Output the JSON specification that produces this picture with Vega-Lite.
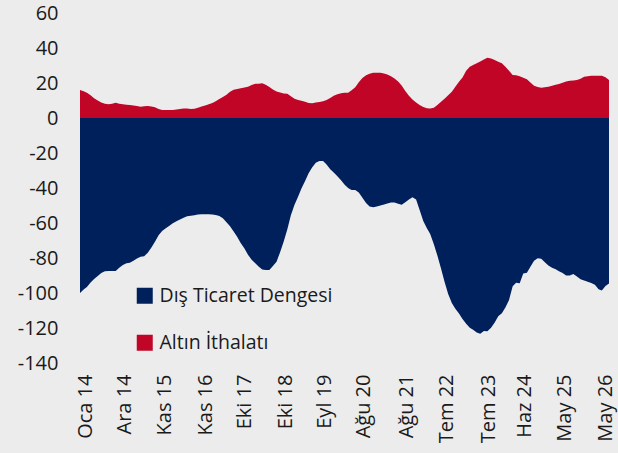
{
  "$schema": "https://vega.github.io/schema/vega-lite/v6.json",
  "width": 529,
  "height": 350,
  "autosize": {"type": "none"},
  "padding": {"left": 80, "top": 13, "right": 9, "bottom": 90},
  "background": "#ECECEC",
  "config": {
    "view": {"stroke": null},
    "font": "Open Sans",
    "axis": {"labelFont": "Open Sans", "labelColor": "#1A1A1A", "labelFontSize": 20, "grid": false, "domain": false, "ticks": false, "tickSize": 0, "title": null, "labelOverlap": false},
    "axisY": {"labelOverlap": false}
  },
  "data": {"values": [
    {"d":"2014/01/01","n":-100,"r":16},{"d":"2014/02/01","n":-98,"r":15.3},{"d":"2014/03/01","n":-96.5,"r":14.4},{"d":"2014/04/01","n":-94,"r":13},{"d":"2014/05/01","n":-92,"r":11.3},{"d":"2014/06/01","n":-90.3,"r":10},{"d":"2014/07/01","n":-88.5,"r":8.8},{"d":"2014/08/01","n":-87.6,"r":8.2},{"d":"2014/09/01","n":-87.4,"r":7.9},{"d":"2014/10/01","n":-87.4,"r":8.1},{"d":"2014/11/01","n":-87.4,"r":8.7},{"d":"2014/12/01","n":-85.5,"r":8.2},
    {"d":"2015/01/01","n":-84,"r":7.8},{"d":"2015/02/01","n":-83,"r":7.6},{"d":"2015/03/01","n":-82.7,"r":7.4},{"d":"2015/04/01","n":-81.5,"r":7.1},{"d":"2015/05/01","n":-80.3,"r":6.8},{"d":"2015/06/01","n":-79.3,"r":6.5},{"d":"2015/07/01","n":-79,"r":6.7},{"d":"2015/08/01","n":-77,"r":6.9},{"d":"2015/09/01","n":-74,"r":6.6},{"d":"2015/10/01","n":-70.7,"r":6.1},{"d":"2015/11/01","n":-67,"r":5.2},{"d":"2015/12/01","n":-64.6,"r":4.6},
    {"d":"2016/01/01","n":-63,"r":4.6},{"d":"2016/02/01","n":-61.5,"r":4.6},{"d":"2016/03/01","n":-60.2,"r":4.6},{"d":"2016/04/01","n":-59,"r":4.8},{"d":"2016/05/01","n":-58,"r":5.1},{"d":"2016/06/01","n":-57,"r":5.4},{"d":"2016/07/01","n":-56.2,"r":5.4},{"d":"2016/08/01","n":-55.8,"r":5.2},{"d":"2016/09/01","n":-55.5,"r":5.3},{"d":"2016/10/01","n":-55.2,"r":5.9},{"d":"2016/11/01","n":-55,"r":6.6},{"d":"2016/12/01","n":-55,"r":7.2},
    {"d":"2017/01/01","n":-55,"r":7.8},{"d":"2017/02/01","n":-55.2,"r":8.6},{"d":"2017/03/01","n":-55.4,"r":9.6},{"d":"2017/04/01","n":-56,"r":10.8},{"d":"2017/05/01","n":-57.3,"r":12},{"d":"2017/06/01","n":-59.5,"r":13.3},{"d":"2017/07/01","n":-61.8,"r":15},{"d":"2017/08/01","n":-64.8,"r":16.1},{"d":"2017/09/01","n":-68,"r":16.6},{"d":"2017/10/01","n":-71.5,"r":17},{"d":"2017/11/01","n":-74.5,"r":17.4},{"d":"2017/12/01","n":-78.2,"r":17.9},
    {"d":"2018/01/01","n":-81,"r":18.9},{"d":"2018/02/01","n":-83,"r":19.6},{"d":"2018/03/01","n":-84.8,"r":19.6},{"d":"2018/04/01","n":-86.5,"r":19.8},{"d":"2018/05/01","n":-86.9,"r":19},{"d":"2018/06/01","n":-86.9,"r":17.7},{"d":"2018/07/01","n":-84.5,"r":16.3},{"d":"2018/08/01","n":-82.2,"r":15.2},{"d":"2018/09/01","n":-76.5,"r":14.6},{"d":"2018/10/01","n":-70.5,"r":14},{"d":"2018/11/01","n":-63.5,"r":13.8},{"d":"2018/12/01","n":-55.5,"r":12.5},
    {"d":"2019/01/01","n":-49.5,"r":11},{"d":"2019/02/01","n":-44.8,"r":10.3},{"d":"2019/03/01","n":-40.3,"r":9.8},{"d":"2019/04/01","n":-36,"r":9.3},{"d":"2019/05/01","n":-31.5,"r":8.6},{"d":"2019/06/01","n":-28.2,"r":8.5},{"d":"2019/07/01","n":-25.5,"r":8.8},{"d":"2019/08/01","n":-24.6,"r":9.2},{"d":"2019/09/01","n":-24.6,"r":9.6},{"d":"2019/10/01","n":-26.6,"r":10.3},{"d":"2019/11/01","n":-29.3,"r":11.5},{"d":"2019/12/01","n":-31.2,"r":12.7},
    {"d":"2020/01/01","n":-33.3,"r":13.6},{"d":"2020/02/01","n":-35.6,"r":14.1},{"d":"2020/03/01","n":-38,"r":14.5},{"d":"2020/04/01","n":-40,"r":14.5},{"d":"2020/05/01","n":-41.1,"r":15.8},{"d":"2020/06/01","n":-41.1,"r":17.6},{"d":"2020/07/01","n":-42.5,"r":20.5},{"d":"2020/08/01","n":-45.5,"r":22.8},{"d":"2020/09/01","n":-48.5,"r":24.4},{"d":"2020/10/01","n":-50.5,"r":25.3},{"d":"2020/11/01","n":-51,"r":25.8},{"d":"2020/12/01","n":-50.5,"r":25.9},
    {"d":"2021/01/01","n":-50,"r":25.8},{"d":"2021/02/01","n":-49.4,"r":25.4},{"d":"2021/03/01","n":-48.8,"r":24.8},{"d":"2021/04/01","n":-48.3,"r":23.8},{"d":"2021/05/01","n":-48.3,"r":22.6},{"d":"2021/06/01","n":-49,"r":20.8},{"d":"2021/07/01","n":-49.6,"r":18.6},{"d":"2021/08/01","n":-48.2,"r":15.5},{"d":"2021/09/01","n":-46.5,"r":12.7},{"d":"2021/10/01","n":-45.3,"r":10.6},{"d":"2021/11/01","n":-46.5,"r":8.9},{"d":"2021/12/01","n":-52.5,"r":7.4},
    {"d":"2022/01/01","n":-58.8,"r":6.3},{"d":"2022/02/01","n":-63,"r":5.6},{"d":"2022/03/01","n":-66.3,"r":5.5},{"d":"2022/04/01","n":-72.2,"r":5.9},{"d":"2022/05/01","n":-78.5,"r":7.4},{"d":"2022/06/01","n":-86,"r":9.3},{"d":"2022/07/01","n":-93.5,"r":11},{"d":"2022/08/01","n":-100.5,"r":13},{"d":"2022/09/01","n":-105.7,"r":15},{"d":"2022/10/01","n":-109,"r":17.8},{"d":"2022/11/01","n":-111.7,"r":20.7},{"d":"2022/12/01","n":-114.8,"r":23.2},
    {"d":"2023/01/01","n":-117.6,"r":27},{"d":"2023/02/01","n":-119.8,"r":29.3},{"d":"2023/03/01","n":-121,"r":30.3},{"d":"2023/04/01","n":-122.5,"r":31.3},{"d":"2023/05/01","n":-123.3,"r":32.3},{"d":"2023/06/01","n":-121.7,"r":33.5},{"d":"2023/07/01","n":-121.8,"r":34.4},{"d":"2023/08/01","n":-119.8,"r":34},{"d":"2023/09/01","n":-116.8,"r":33.2},{"d":"2023/10/01","n":-113.3,"r":32.2},{"d":"2023/11/01","n":-111.6,"r":31.3},{"d":"2023/12/01","n":-108.3,"r":29.3},
    {"d":"2024/01/01","n":-104,"r":27},{"d":"2024/02/01","n":-96.2,"r":24.6},{"d":"2024/03/01","n":-94.2,"r":24.4},{"d":"2024/04/01","n":-94.4,"r":23.8},{"d":"2024/05/01","n":-88.8,"r":23},{"d":"2024/06/01","n":-88.4,"r":22.2},{"d":"2024/07/01","n":-85,"r":20.3},{"d":"2024/08/01","n":-81.5,"r":18.4},{"d":"2024/09/01","n":-80.2,"r":17.7},{"d":"2024/10/01","n":-80.4,"r":17.3},{"d":"2024/11/01","n":-82.4,"r":17.6},{"d":"2024/12/01","n":-84.3,"r":17.9},
    {"d":"2025/01/01","n":-85.5,"r":18.4},{"d":"2025/02/01","n":-86.4,"r":19},{"d":"2025/03/01","n":-87.5,"r":19.5},{"d":"2025/04/01","n":-88.5,"r":20.2},{"d":"2025/05/01","n":-90,"r":20.9},{"d":"2025/06/01","n":-90,"r":21.3},{"d":"2025/07/01","n":-89.1,"r":21.5},{"d":"2025/08/01","n":-90.6,"r":21.7},{"d":"2025/09/01","n":-92.2,"r":22.5},{"d":"2025/10/01","n":-92.8,"r":23.6},{"d":"2025/11/01","n":-93.5,"r":23.9},{"d":"2025/12/01","n":-94.3,"r":24.1},
    {"d":"2026/01/01","n":-95.3,"r":24.2},{"d":"2026/02/01","n":-97.8,"r":24.2},{"d":"2026/03/01","n":-98.5,"r":24.2},{"d":"2026/04/01","n":-96,"r":23.3},{"d":"2026/05/01","n":-94.5,"r":21.7}
  ]},
  "transform": [
    {"fold": ["n", "r"], "as": ["key", "value"]}
  ],
  "encoding": {
    "x": {
      "field": "d", "type": "temporal",
      "scale": {"nice": false},
      "axis": {
        "labelAngle": -90, "labelPadding": 11,
        "values": [
          {"year":2014,"month":1,"date":1},{"year":2014,"month":12,"date":1},{"year":2015,"month":11,"date":1},{"year":2016,"month":11,"date":1},{"year":2017,"month":10,"date":1},{"year":2018,"month":10,"date":1},{"year":2019,"month":9,"date":1},{"year":2020,"month":8,"date":1},{"year":2021,"month":8,"date":1},{"year":2022,"month":7,"date":1},{"year":2023,"month":7,"date":1},{"year":2024,"month":6,"date":1},{"year":2025,"month":5,"date":1},{"year":2026,"month":5,"date":1}
        ],
        "labelExpr": "['Oca','Şub','Mar','Nis','May','Haz','Tem','Ağu','Eyl','Eki','Kas','Ara'][month(datum.value)] + ' ' + timeFormat(datum.value, '%y')",
        "labelOffset": {"condition": [
          {"test": "year(datum.value) >= 2026", "value": -4},
          {"test": "year(datum.value) >= 2024", "value": -2},
          {"test": "year(datum.value) <= 2015", "value": 5.5},
          {"test": "year(datum.value) <= 2017", "value": 4}
        ], "value": 1.5},
        "labelOverlap": false
      }
    }
  },
  "layer": [
    {
      "mark": {"type": "area", "interpolate": "linear"},
      "encoding": {
        "y": {
          "field": "value", "type": "quantitative", "stack": null,
          "scale": {"domain": [-140, 60], "nice": false},
          "axis": {"values": [-140,-120,-100,-80,-60,-40,-20,0,20,40,60], "labelPadding": 22, "labelOverlap": false, "labelExpr": "'' + datum.value"}
        },
        "color": {
          "field": "key", "type": "nominal",
          "scale": {"domain": ["n", "r"], "range": ["#00205B", "#C00527"]},
          "legend": {
            "orient": "none", "legendX": 55, "legendY": 273,
            "title": null, "padding": 0,
            "labelExpr": "datum.value == 'n' ? 'Dış Ticaret Dengesi' : 'Altın İthalatı'",
            "labelFont": "Open Sans", "labelFontSize": 19.5, "labelColor": "#1A1A1A", "labelLimit": 400,
            "symbolType": "square", "symbolSize": 256, "symbolStrokeWidth": 0, "symbolOpacity": 1,
            "labelOffset": 5, "rowPadding": 26
          }
        }
      }
    },
    {
      "mark": {"type": "rule", "color": "#F4DDE2", "strokeWidth": 2},
      "encoding": {"y": {"datum": 0, "type": "quantitative", "axis": {"values": [-140,-120,-100,-80,-60,-40,-20,0,20,40,60], "labelPadding": 22, "labelOverlap": false, "labelExpr": "'' + datum.value"}}}
    }
  ]
}
